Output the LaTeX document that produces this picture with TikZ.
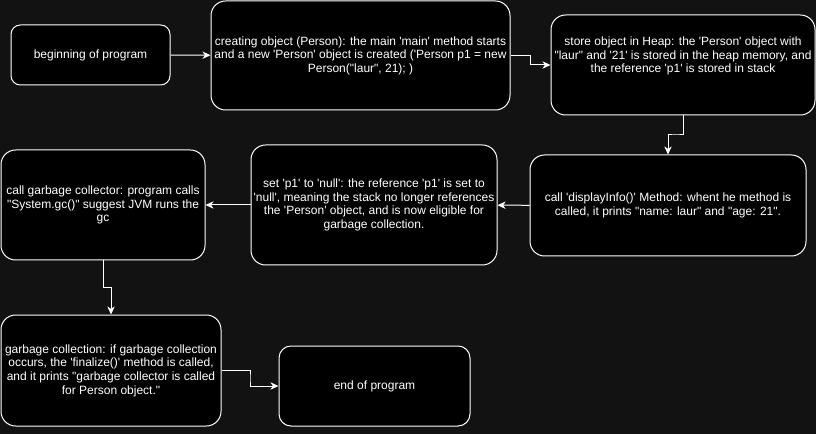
\documentclass[tikz,border=0pt]{standalone}
\usepackage{fontspec}
\newfontfamily\boxfont{Liberation Sans}
\usepackage{tikz}
\usetikzlibrary{calc,arrows.meta}
\definecolor{bgdark}{RGB}{18,18,18}

\begin{document}
\begin{tikzpicture}[x=0.75pt, y=-0.75pt,
    box/.style 2 args={draw=white, fill=black, text=white, line width=0.75pt,
        rounded corners=11pt, align=center, inner sep=1pt,
        font=\boxfont\fontsize{9pt}{10.2pt}\selectfont,
        minimum width=#1*0.75pt, minimum height=#2*0.75pt},
    flow/.style={draw=white, line width=0.75pt, -{Stealth[length=6pt,width=5.5pt,inset=1.8pt]}}]

    % Background
    \fill[bgdark] (0,0) rectangle (816,434);
    \useasboundingbox (0,0) rectangle (816,434);

    % Top row
    \node[box={159}{60}, rounded corners=7pt] (start) at (90.5,55) {beginning of program};
    \node[box={299}{109}] (create) at (360.5,55.5) {creating object (Person): the main 'main' method starts\\and a new 'Person' object is created ('Person p1 = new\\Person("laur", 21); )};
    \node[box={264}{100},
        label={[text=white, align=center, font=\boxfont\fontsize{9pt}{10.2pt}\selectfont, yshift=6.75pt]center:{store object in Heap: the 'Person' object with\\"laur" and '21' is stored in the heap memory, and\\the reference 'p1' is stored in stack}}]
        (heap) at (683,65) {};

    % Middle row
    \node[box={276}{101}] (display) at (668,205.5) {call 'displayInfo()' Method: whent he method is\\called, it prints "name: laur" and "age: 21".};
    \node[box={246}{120}] (setnull) at (374,205) {set 'p1' to 'null': the reference 'p1' is set to\\'null', meaning the stack no longer references\\the 'Person' object, and is now eligible for\\garbage collection.};
    \node[box={204}{110}] (callgc) at (103,205) {call garbage collector: program calls\\"System.gc()" suggest JVM runs the\\gc};

    % Bottom row
    \node[box={220}{111}] (collect) at (111,370.5) {garbage collection: if garbage collection\\occurs, the 'finalize()' method is called,\\and it prints "garbage collector is called\\for Person object."};
    \node[box={191}{80}, rounded corners=9pt] (finish) at (374.5,386) {end of program};

    % Connectors
    \draw[flow] (start) -- (create);
    \draw[flow] (create.east) -| ($(create.east)!0.5!(heap.west)$) |- (heap.west);
    \draw[flow] (heap.south) |- ($(heap.south)!0.5!(display.north)$) -| (display.north);
    \draw[flow] (display) -- (setnull);
    \draw[flow] (setnull) -- (callgc);
    \draw[flow] (callgc.south) |- ($(callgc.south)!0.5!(collect.north)$) -| (collect.north);
    \draw[flow] (collect.east) -| ($(collect.east)!0.5!(finish.west)$) |- (finish.west);
\end{tikzpicture}
\end{document}
